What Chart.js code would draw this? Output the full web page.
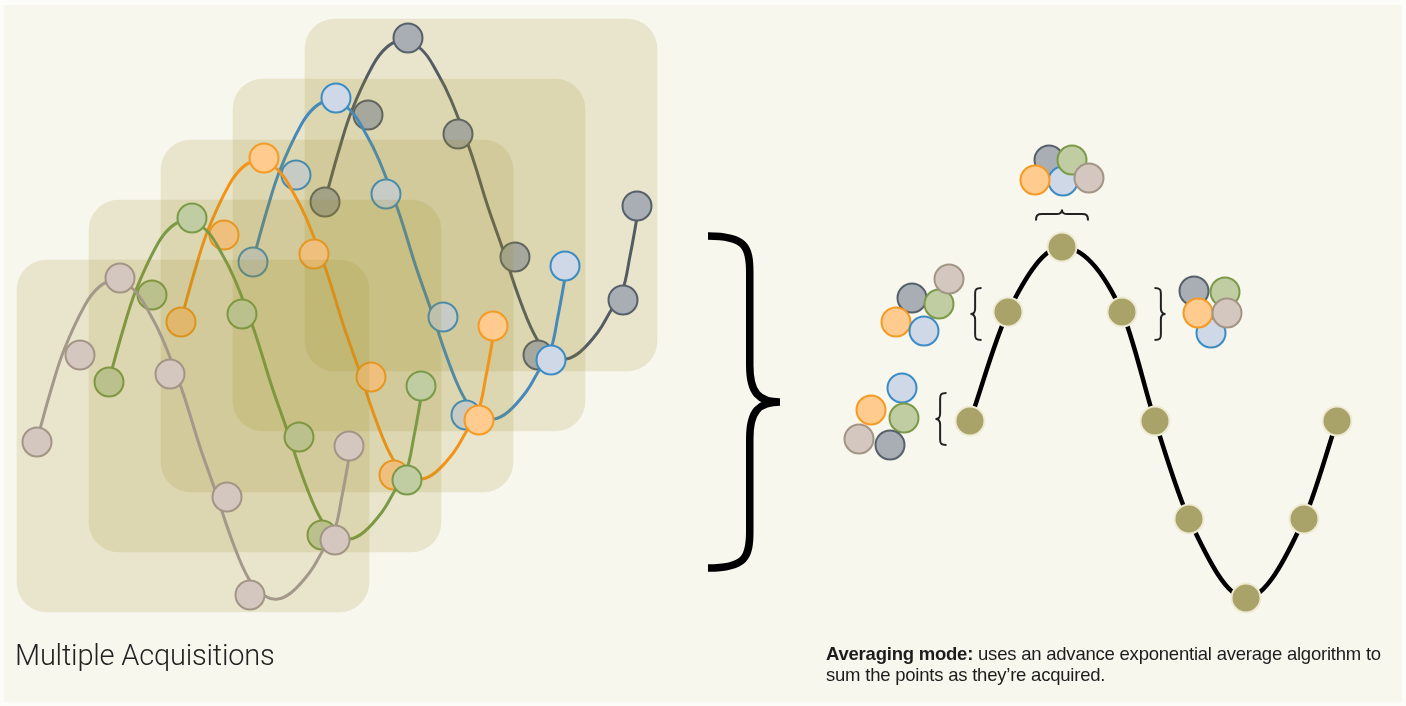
<!DOCTYPE html>
<html>
<head>
<meta charset="utf-8">
<script src="https://cdn.jsdelivr.net/npm/chart.js@4.4.1/dist/chart.umd.min.js"></script>
<style>
  html, body { margin: 0; padding: 0; background: #fcfcf8; }
  #panel { position: absolute; left: 4px; top: 5px; right: 4px; bottom: 4px; background: #f8f7ee; }
  #wrap { position: absolute; left: 0; top: 0; width: 1406px; height: 706px; }
  #leftLabel { position: absolute; left: 15px; top: 641px; font: 300 29px Roboto, "Liberation Sans", sans-serif; line-height: 29px; letter-spacing: -0.2px; color: #222; white-space: nowrap; }
  #rightLabel { position: absolute; left: 826px; top: 643px; font: 18.5px "Liberation Sans", Arial, sans-serif; line-height: 21px; letter-spacing: -0.22px; color: #1c1c1c; white-space: nowrap; }
</style>
</head>
<body>
<div id="panel"></div>
<div id="wrap"><canvas id="chart-acquisitions"></canvas></div>
<div id="leftLabel">Multiple Acquisitions</div>
<div id="rightLabel"><b>Averaging mode:</b> uses an advance exponential average algorithm to<br>sum the points as they’re acquired.</div>
<script>
// sampled points of each acquisition, front to back (x right, y down)
const brownX = [37, 80, 120, 170, 227, 250, 335, 349];
const brownY = [442, 355, 278, 374, 497, 595, 540, 446];
const greenX = [109, 152, 192, 242, 299, 322, 407, 421];
const greenY = [382, 295, 218, 314, 437, 535, 480, 386];
const orangeX = [181, 224, 264, 314, 371, 394, 479, 493];
const orangeY = [322, 235, 158, 254, 377, 475, 420, 326];
const blueX = [253, 296, 336, 386, 443, 466, 551, 565];
const blueY = [262, 175, 98, 194, 317, 415, 360, 266];
const grayX = [325, 368, 408, 458, 515, 538, 623, 637];
const grayY = [202, 115, 38, 134, 257, 355, 300, 206];

// the smooth signal traced behind each acquisition
const brownCurveX = [37, 51, 64, 85, 99, 113, 133, 150, 163, 182, 200, 213, 233, 250, 265, 278, 292, 310, 322, 334, 342, 350];
const brownCurveY = [440, 390, 350, 305, 287, 281, 289, 314, 340, 390, 447, 484, 543, 581, 596, 599, 592, 572, 552, 532, 496, 452];
const greenCurveX = [109, 123, 136, 157, 171, 185, 205, 222, 235, 254, 272, 285, 305, 322, 337, 350, 364, 382, 394, 406, 414, 422];
const greenCurveY = [380, 330, 290, 245, 227, 221, 229, 254, 280, 330, 387, 424, 483, 521, 536, 539, 532, 512, 492, 472, 436, 392];
const orangeCurveX = [181, 195, 208, 229, 243, 257, 277, 294, 307, 326, 344, 357, 377, 394, 409, 422, 436, 454, 466, 478, 486, 494];
const orangeCurveY = [320, 270, 230, 185, 167, 161, 169, 194, 220, 270, 327, 364, 423, 461, 476, 479, 472, 452, 432, 412, 376, 332];
const blueCurveX = [253, 267, 280, 301, 315, 329, 349, 366, 379, 398, 416, 429, 449, 466, 481, 494, 508, 526, 538, 550, 558, 566];
const blueCurveY = [260, 210, 170, 125, 107, 101, 109, 134, 160, 210, 267, 304, 363, 401, 416, 419, 412, 392, 372, 352, 316, 272];
const grayCurveX = [325, 339, 352, 373, 387, 401, 421, 438, 451, 470, 488, 501, 521, 538, 553, 566, 580, 598, 610, 622, 630, 638];
const grayCurveY = [200, 150, 110, 65, 47, 41, 49, 74, 100, 150, 207, 244, 303, 341, 356, 359, 352, 332, 312, 292, 256, 212];

// acquisition frames: centre x, top, bottom
const frameX = [193, 265, 337, 409, 481];
const frameTop = [260, 200, 140, 79, 19];
const frameBottom = [612, 552, 492, 431, 371];

// averaged result
const avgX = [970, 1008, 1062, 1122, 1155, 1189, 1246, 1304, 1337];
const avgY = [421, 312, 247, 312, 421, 519, 598, 519, 421];

// point groups that feed each averaged point (drawn back to front)
const clusterTopX = [1049, 1063, 1072, 1035, 1089];
const clusterTopY = [160, 181, 160, 180, 178];
const clusterTopC = ['gray', 'blue', 'green', 'orange', 'brown'];
const clusterLeftX = [912, 896, 924, 939, 949];
const clusterLeftY = [298, 322, 331, 304, 279];
const clusterLeftC = ['gray', 'orange', 'blue', 'green', 'brown'];
const clusterRightX = [1194, 1225, 1211, 1198, 1227];
const clusterRightY = [291, 292, 333, 313, 313];
const clusterRightC = ['gray', 'green', 'blue', 'orange', 'brown'];
const clusterLowX = [902, 871, 904, 859, 890];
const clusterLowY = [388, 410, 418, 439, 445];
const clusterLowC = ['blue', 'orange', 'green', 'brown', 'gray'];

const fills = { brown: '#d4c7c0', green: '#c0cca2', orange: '#ffcb8f', blue: '#cfd8e6', gray: '#a9aeb5' };
const strokes = { brown: '#a39585', green: '#7a9a48', orange: '#f59a22', blue: '#3b8cc4', gray: '#55606a' };
const lines = { brown: '#a3988a', green: '#7a9a46', orange: '#f39419', blue: '#4689ba', gray: '#545c63' };

function pts(xs, ys) {
    return xs.map(function (x, i) { return { x: x, y: ys[i] }; });
}

const acquisitions = [
    ['brown', brownX, brownY, brownCurveX, brownCurveY],
    ['green', greenX, greenY, greenCurveX, greenCurveY],
    ['orange', orangeX, orangeY, orangeCurveX, orangeCurveY],
    ['blue', blueX, blueY, blueCurveX, blueCurveY],
    ['gray', grayX, grayY, grayCurveX, grayCurveY]
];

const datasets = [];
acquisitions.forEach(function (a, i) {
    const name = a[0];
    datasets.push({
        type: 'scatter',
        data: pts(a[1], a[2]),
        pointRadius: 14.5,
        pointBackgroundColor: fills[name],
        pointBorderColor: strokes[name],
        pointBorderWidth: 2,
        showLine: false,
        clip: false,
        order: 10 + i * 3
    });
    datasets.push({
        type: 'line',
        data: pts(a[3], a[4]),
        borderColor: lines[name],
        borderWidth: 3,
        tension: 0.4,
        pointRadius: 0,
        clip: false,
        order: 11 + i * 3
    });
    datasets.push({
        type: 'bar',
        data: [{ x: frameX[i], y: [frameTop[i], frameBottom[i]] }],
        backgroundColor: 'rgba(155,135,30,0.16)',
        borderWidth: 0,
        borderRadius: 30,
        borderSkipped: false,
        barThickness: 352,
        grouped: false,
        order: 12 + i * 3
    });
});

datasets.push({
    type: 'line',
    data: pts(avgX, avgY),
    borderColor: '#000',
    borderWidth: 4.5,
    cubicInterpolationMode: 'monotone',
    pointRadius: 14.5,
    pointBackgroundColor: '#a9a36a',
    pointBorderColor: '#eeead4',
    pointBorderWidth: 2,
    clip: false,
    order: 5
});

[[clusterTopX, clusterTopY, clusterTopC],
 [clusterLeftX, clusterLeftY, clusterLeftC],
 [clusterRightX, clusterRightY, clusterRightC],
 [clusterLowX, clusterLowY, clusterLowC]].forEach(function (c, i) {
    datasets.push({
        type: 'scatter',
        data: pts(c[0], c[1]),
        pointRadius: 14.5,
        pointBackgroundColor: c[2].map(function (n) { return fills[n]; }),
        pointBorderColor: c[2].map(function (n) { return strokes[n]; }),
        pointBorderWidth: 2,
        showLine: false,
        clip: false,
        order: 1 + i
    });
});

// braces: centre, half length, depth, rotation (0 = points right)
const braces = [
    { x: 744, y: 402, h: 166, d: 72, rot: 0, w: 7.5, c: '#000' },
    { x: 941, y: 419, h: 26, d: 11, rot: Math.PI, w: 2, c: '#222' },
    { x: 976, y: 314, h: 26, d: 11, rot: Math.PI, w: 2, c: '#222' },
    { x: 1160, y: 314, h: 26, d: 11, rot: 0, w: 2, c: '#222' },
    { x: 1062, y: 215, h: 26, d: 11, rot: -Math.PI / 2, w: 2, c: '#222' }
];

const bracePlugin = {
    id: 'braces',
    afterDatasetsDraw(chart) {
        const ctx = chart.ctx;
        const sx = chart.scales.x, sy = chart.scales.y;
        braces.forEach(function (b) {
            const cx = sx.getPixelForValue(b.x), cy = sy.getPixelForValue(b.y);
            const h = Math.abs(sy.getPixelForValue(b.y + b.h) - cy);
            const d = Math.abs(sx.getPixelForValue(b.x + b.d) - cx);
            const tip = -d / 2, stem = -d / 2 + d * 0.58, point = d / 2;
            const r = h * 0.22;
            ctx.save();
            ctx.translate(cx, cy);
            ctx.rotate(b.rot);
            ctx.strokeStyle = b.c;
            ctx.lineWidth = b.w;
            ctx.beginPath();
            ctx.moveTo(tip, -h);
            ctx.bezierCurveTo(stem - (stem - tip) * 0.1, -h, stem, -h + r * 0.3, stem, -h + r);
            ctx.lineTo(stem, -r);
            ctx.bezierCurveTo(stem, -r * 0.25, stem + (point - stem) * 0.3, 0, point, 0);
            ctx.bezierCurveTo(stem + (point - stem) * 0.3, 0, stem, r * 0.25, stem, r);
            ctx.lineTo(stem, h - r);
            ctx.bezierCurveTo(stem, h - r * 0.3, stem - (stem - tip) * 0.1, h, tip, h);
            ctx.stroke();
            ctx.restore();
        });
    }
};

const ctxAcq = document.getElementById('chart-acquisitions').getContext('2d');
const chartAcq = new Chart(ctxAcq, {
    type: 'scatter',
    data: { datasets: datasets },
    options: {
        responsive: true,
        maintainAspectRatio: false,
        animation: false,
        layout: { padding: 0, autoPadding: false },
        events: [],
        scales: {
            x: { type: 'linear', min: 0, max: 1406, display: false, offset: false },
            y: { type: 'linear', min: 0, max: 706, reverse: true, display: false }
        },
        plugins: { legend: { display: false }, tooltip: { enabled: false } }
    },
    plugins: [bracePlugin]
});
</script>
</body>
</html>
